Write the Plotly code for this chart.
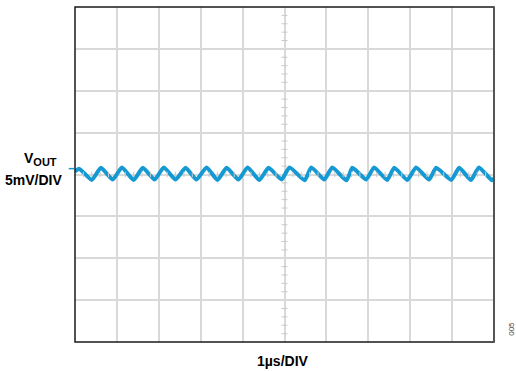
import plotly.graph_objects as go

# Waveform: time (µs) and VOUT ripple (mV), relative to the centre line
t_us = [0.00, 0.10, 0.40, 0.62, 0.90, 1.12, 1.40, 1.62, 1.90, 2.12, 2.40, 2.64, 2.90,
        3.14, 3.40, 3.62, 3.90, 4.12, 4.40, 4.62, 4.93, 5.12, 5.48, 5.64, 5.95,
        6.14, 6.48, 6.62, 6.95, 7.14, 7.45, 7.62, 7.93, 8.14, 8.45, 8.62, 8.98,
        9.17, 9.45, 9.64, 9.95, 10.00]
v_mv = [0.35, 0.70, -0.65, 0.80, -0.60, 0.85, -0.65, 0.80, -0.60, 0.85, -0.60, 0.80, -0.60,
        0.85, -0.65, 0.80, -0.60, 0.85, -0.65, 0.80, -0.60, 0.85, -0.70, 0.85, -0.60,
        0.85, -0.70, 0.80, -0.60, 0.85, -0.65, 0.80, -0.65, 0.85, -0.60, 0.80, -0.65,
        0.80, -0.65, 0.85, -0.70, -0.45]

x_range = [0, 10]      # 10 divisions, 1 µs/DIV
y_range = [-20, 20]    # 8 divisions, 5 mV/DIV
x_ticks = list(range(0, 11))
y_ticks = list(range(-20, 21, 5))

TRACE = "#1499d3"
GRID = "#d9d9d9"

fig = go.Figure()
fig.add_trace(go.Scatter(x=t_us, y=v_mv, mode="lines",
                         line=dict(color=TRACE, width=4, shape="spline", smoothing=0.5),
                         hoverinfo="skip", showlegend=False))

# minor ticks on centre cross (5 per division)
shapes = []
for i in range(51):
    xv = i * 0.2
    if i % 5 != 0:
        shapes.append(dict(type="line", xref="x", yref="paper", x0=xv, x1=xv,
                           y0=0.5 - 0.008, y1=0.5 + 0.008,
                           line=dict(color="#c8c8c8", width=1)))
for i in range(41):
    yv = -20 + i * 1.0
    if i % 5 != 0:
        shapes.append(dict(type="line", xref="paper", yref="y", y0=yv, y1=yv,
                           x0=0.5 - 0.007, x1=0.5 + 0.007,
                           line=dict(color="#c8c8c8", width=1)))
# frame
shapes.append(dict(type="rect", xref="paper", yref="paper", x0=0, x1=1, y0=0, y1=1,
                   line=dict(color="#1a1a1a", width=1.5), fillcolor="rgba(0,0,0,0)"))
shapes.append(dict(type="line", xref="paper", yref="paper", x0=1, x1=1, y0=0, y1=1,
                   line=dict(color="#555555", width=2)))
# channel ground marker at left edge
shapes.append(dict(type="line", xref="paper", yref="y", x0=-0.015, x1=-0.002,
                   y0=0.7, y1=0.7, line=dict(color=TRACE, width=1.5)))

fig.update_layout(
    width=516, height=371,
    margin=dict(l=75, r=22, t=7, b=29),
    paper_bgcolor="white", plot_bgcolor="white",
    shapes=shapes,
    font=dict(family="Liberation Sans, Arial, sans-serif", color="black"),
    xaxis=dict(range=x_range, tickvals=x_ticks, showticklabels=False, ticks="",
               showgrid=True, gridcolor=GRID, gridwidth=1.5, zeroline=False,
               showline=False, fixedrange=True),
    yaxis=dict(range=y_range, tickvals=y_ticks, showticklabels=False, ticks="",
               showgrid=True, gridcolor=GRID, gridwidth=1.5, zeroline=False,
               showline=False, fixedrange=True),
    annotations=[
        dict(text="<b>V<sub><span style='font-size:11px'>OUT</span></sub></b>",
             xref="paper", yref="y", x=-0.083, y=1.9,
             xanchor="center", yanchor="middle", showarrow=False,
             font=dict(size=14)),
        dict(text="<b>5mV/DIV</b>", xref="paper", yref="y", x=-0.026, y=-0.6,
             xanchor="right", yanchor="middle", showarrow=False,
             font=dict(size=14)),
        dict(text="<b>1µs/DIV</b>", xref="paper", yref="paper", x=0.497, y=-0.056,
             xanchor="center", yanchor="middle", showarrow=False,
             font=dict(size=14)),
        dict(text="005", xref="paper", yref="paper", x=1.041, y=0.04,
             xanchor="center", yanchor="middle", showarrow=False, textangle=-90,
             font=dict(size=8, color="#444444")),
    ],
)

fig.write_html("out.html", config={"displayModeBar": False},
               post_script="document.body.style.margin='0';document.body.style.overflow='hidden';")
